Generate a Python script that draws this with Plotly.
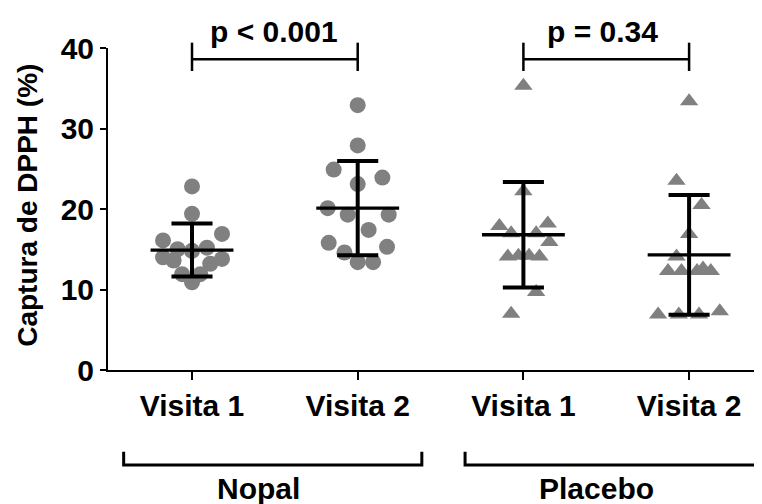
import plotly.graph_objects as go

# ---- data ----
categories = ["Visita 1", "Visita 2", "Visita 1", "Visita 2"]
groups = ["Nopal", "Placebo"]

nopal_v1 = [22.8, 19.4, 16.1, 16.9, 15.0, 14.8, 15.2, 14.0, 13.6, 13.8, 13.2, 11.9, 11.9, 10.9]
nopal_v2 = [32.9, 27.9, 24.9, 23.1, 23.9, 20.1, 19.3, 19.3, 17.4, 15.8, 15.3, 14.6, 13.4, 13.4]
placebo_v1 = [35.3, 22.2, 17.9, 18.2, 17.0, 17.0, 15.9, 14.1, 14.2, 14.2, 14.1, 9.7, 7.0]
placebo_v2 = [33.4, 23.5, 20.5, 16.9, 14.1, 12.3, 12.3, 12.3, 12.6, 12.3, 6.9, 6.9, 6.9, 7.3]

# horizontal scatter (swarm) offsets, in category units
nopal_v1_off = [0, 0, -0.175, 0.181, -0.087, 0, 0.09, -0.175, -0.111, 0.181, 0.11, -0.06, 0.05, 0]
nopal_v2_off = [0, 0, -0.145, 0, 0.149, -0.181, -0.06, 0.187, 0.066, -0.175, 0.177, -0.08, 0, 0.093]
placebo_v1_off = [0, 0, -0.145, 0.147, -0.074, 0.077, 0.157, -0.094, -0.03, 0.034, 0.097, 0.077, -0.074]
placebo_v2_off = [0, -0.076, 0.075, 0, -0.076, -0.127, -0.046, 0.048, 0.084, 0.131, -0.187, -0.062, 0.06, 0.185]

means = [14.9, 20.1, 16.8, 14.3]
sds = [3.3, 5.85, 6.55, 7.45]

p_labels = ["p < 0.001", "p = 0.34"]
y_ticks = [0, 10, 20, 30, 40]
y_title = "Captura de DPPH (%)"

# ---- figure ----
FONT = "Liberation Sans, Arial, sans-serif"
GRAY = "#808080"
fig = go.Figure()

series = [(nopal_v1, nopal_v1_off, "circle"), (nopal_v2, nopal_v2_off, "circle"),
          (placebo_v1, placebo_v1_off, "triangle-up"), (placebo_v2, placebo_v2_off, "triangle-up")]
for i, (vals, offs, sym) in enumerate(series):
    fig.add_trace(go.Scatter(
        x=[i + o for o in offs], y=vals, mode="markers",
        marker=dict(symbol=sym, size=16, color=GRAY, line=dict(width=0)),
        cliponaxis=False, showlegend=False, hoverinfo="y"))

# mean lines and SD bars
mx, my, ex, ey = [], [], [], []
for i, (m, s) in enumerate(zip(means, sds)):
    mx += [i - 0.25, i + 0.25, None]
    my += [m, m, None]
    ex += [i, i, None, i - 0.124, i + 0.124, None, i - 0.124, i + 0.124, None]
    ey += [m - s, m + s, None, m + s, m + s, None, m - s, m - s, None]
fig.add_trace(go.Scatter(x=mx, y=my, mode="lines", line=dict(color="black", width=3.3),
                         showlegend=False, hoverinfo="skip"))
fig.add_trace(go.Scatter(x=ex, y=ey, mode="lines", line=dict(color="black", width=4),
                         showlegend=False, hoverinfo="skip"))

shapes = []
annotations = []
# p-value brackets (between visits of each group)
for g, lab in enumerate(p_labels):
    a, b = 2 * g, 2 * g + 1
    shapes.append(dict(type="line", xref="x", yref="paper", x0=a, x1=b, y0=0.9649, y1=0.9649,
                       line=dict(color="black", width=2.5)))
    for xx in (a, b):
        shapes.append(dict(type="line", xref="x", yref="paper", x0=xx, x1=xx, y0=0.9286, y1=1.0165,
                           line=dict(color="black", width=2.5)))
    annotations.append(dict(text=lab, xref="x", yref="paper", x=[0.496, 2.48][g], y=1.05,
                            xanchor="center", yanchor="middle", showarrow=False,
                            font=dict(family=FONT, size=30, color="black", weight="bold")))

# group brackets below the axis
group_spans = [(-0.4125, 1.387), (1.648, 3.427)]
group_label_x = [0.40, 2.443]
for (a, b), name, lx in zip(group_spans, groups, group_label_x):
    shapes.append(dict(type="path", xref="x", yref="paper",
                       path=f"M {a},-0.2537 L {a},-0.295 L {b},-0.295 L {b},-0.2537",
                       line=dict(color="black", width=3)))
    annotations.append(dict(text=name, xref="x", yref="paper", x=lx, y=-0.368,
                            xanchor="center", yanchor="middle", showarrow=False,
                            font=dict(family=FONT, size=30, color="black", weight="bold")))

annotations.append(dict(text=y_title, xref="paper", yref="paper", x=-0.1223, y=0.51,
                        xanchor="center", yanchor="middle", textangle=-90, showarrow=False,
                        font=dict(family=FONT, size=28, color="black", weight="bold")))

# the page body adds an 8px offset, so the figure is sized to end at the window edge
fig.update_layout(
    width=754, height=496,
    margin=dict(l=100, r=0, t=40, b=134, autoexpand=False),
    paper_bgcolor="white", plot_bgcolor="white",
    shapes=shapes, annotations=annotations,
    font=dict(family=FONT, size=30, color="black", weight="bold"),
    xaxis=dict(range=[-0.507, 3.44], tickvals=[0, 1, 2, 3], ticktext=categories,
               showline=True, linewidth=2, linecolor="black", ticks="outside", ticklen=8,
               tickwidth=2, tickcolor="black", showgrid=False, zeroline=False, automargin=False,
               tickfont=dict(family=FONT, size=30, color="black", weight="bold")),
    yaxis=dict(range=[0, 40], tickvals=y_ticks, showline=True, linewidth=2, linecolor="black",
               ticks="outside", ticklen=6, tickwidth=2, tickcolor="black", showgrid=False,
               zeroline=False, automargin=False,
               tickfont=dict(family=FONT, size=30, color="black", weight="bold")),
)

fig.write_html("out.html")
